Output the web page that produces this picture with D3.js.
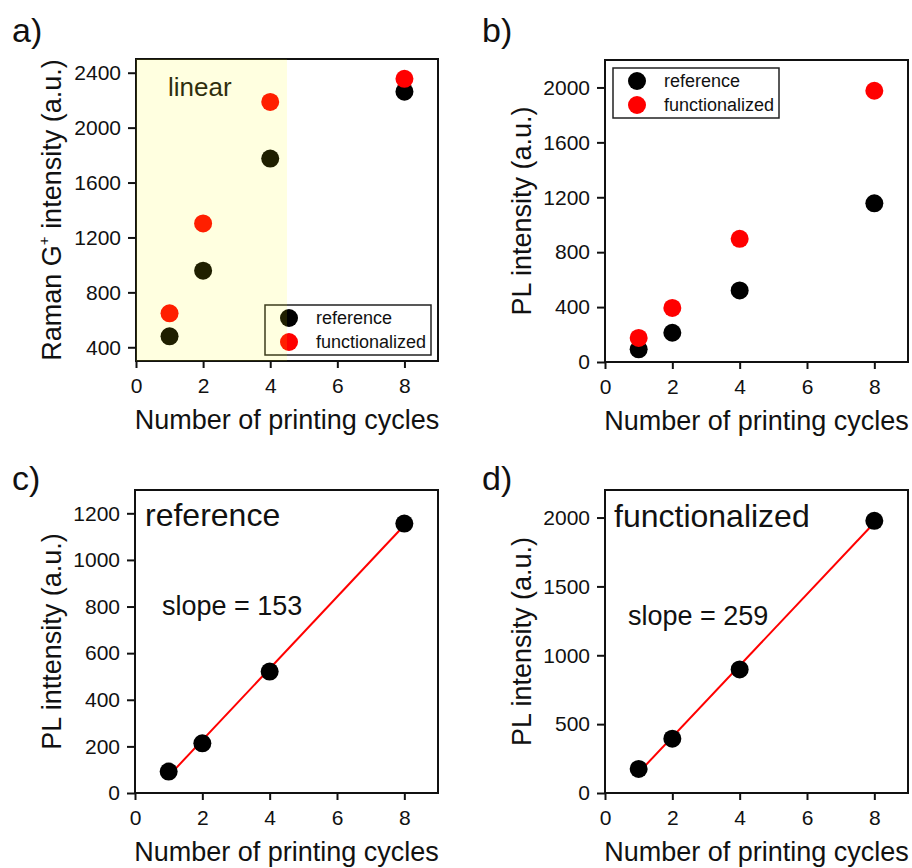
<!DOCTYPE html>
<html>
<head>
<meta charset="utf-8">
<script src="https://cdn.jsdelivr.net/npm/d3@7"></script>
<style>
  body { margin: 0; background: #fff; }
  text { font-family: Arial, "Liberation Sans", sans-serif; fill: #111; }
</style>
</head>
<body>
<div id="chart"></div>
<script>

// Data
var cycles = [1, 2, 4, 8];
var ramanRef  = [480, 958, 1775, 2262];
var ramanFunc = [647, 1302, 2187, 2356];
var plRef  = [92, 213, 521, 1156];
var plFunc = [175, 394, 897, 1976];

var xTicks = [0, 2, 4, 6, 8];
var ramanTicks = [400, 800, 1200, 1600, 2000, 2400];
var plTicksB = [0, 400, 800, 1200, 1600, 2000];
var plTicksC = [0, 200, 400, 600, 800, 1000, 1200];
var plTicksD = [0, 500, 1000, 1500, 2000];

var seriesNames = ["reference", "functionalized"];
var seriesColors = ["#000", "#ff0000"];


// --> SVG
var width = 912,
    height = 868;

var svg = d3.select("#chart").append("svg")
    .attr("width", width)
    .attr("height", height);


// Least squares fit
function linFit(xs, ys) {
    var mx = d3.mean(xs), my = d3.mean(ys);
    var sxy = d3.sum(xs, function(x, i) { return (x - mx) * (ys[i] - my); });
    var sxx = d3.sum(xs, function(x) { return (x - mx) * (x - mx); });
    var slope = sxy / sxx;
    return { slope: slope, intercept: my - slope * mx };
}


function drawPanel(p) {

    var g = svg.append("g");

    var x = d3.scaleLinear().domain([0, 9]).range([p.left, p.right]);
    var y = d3.scaleLinear().domain(p.yDomain).range([p.bottom, p.top]);

    // axes
    var xAxis = g.append("g")
        .attr("transform", "translate(0," + p.bottom + ")")
        .call(d3.axisBottom(x).tickValues(xTicks).tickSize(7).tickPadding(10).tickSizeOuter(0));

    var yAxis = g.append("g")
        .attr("transform", "translate(" + p.left + ",0)")
        .call(d3.axisLeft(y).tickValues(p.yTicks).tickFormat(d3.format("d")).tickSize(8).tickPadding(7).tickSizeOuter(0));

    [xAxis, yAxis].forEach(function(a) {
        a.select(".domain").remove();
        a.selectAll("line").attr("stroke", "#111").attr("stroke-width", 2);
        a.selectAll("text").style("font-size", "21px").attr("fill", "#111");
    });

    // frame
    g.append("rect")
        .attr("x", p.left)
        .attr("y", p.top)
        .attr("width", p.right - p.left)
        .attr("height", p.bottom - p.top)
        .attr("fill", "none")
        .attr("stroke", "#111")
        .attr("stroke-width", 2);

    // fit line
    if (p.fit) {
        var f = linFit(cycles, p.series[0]);
        g.append("line")
            .attr("x1", x(cycles[0]))
            .attr("y1", y(f.slope * cycles[0] + f.intercept))
            .attr("x2", x(cycles[cycles.length - 1]))
            .attr("y2", y(f.slope * cycles[cycles.length - 1] + f.intercept))
            .attr("stroke", "#ff0000")
            .attr("stroke-width", 2);
    }

    // points
    p.series.forEach(function(vals, s) {
        g.selectAll(".pt" + s)
            .data(vals)
            .enter().append("circle")
            .attr("class", "pt" + s)
            .attr("cx", function(d, i) { return x(cycles[i]); })
            .attr("cy", function(d) { return y(d); })
            .attr("r", 9)
            .attr("fill", p.colors[s]);
    });

    // legend
    if (p.legend) {
        var L = p.legend;
        g.append("rect")
            .attr("x", L.x).attr("y", L.y)
            .attr("width", 166).attr("height", 50)
            .attr("fill", "none")
            .attr("stroke", "#222")
            .attr("stroke-width", 1.5);
        seriesNames.forEach(function(name, i) {
            g.append("circle")
                .attr("cx", L.x + 24)
                .attr("cy", L.y + 13 + i * 24)
                .attr("r", 9)
                .attr("fill", seriesColors[i]);
            g.append("text")
                .attr("x", L.x + 51)
                .attr("y", L.y + 13 + i * 24 + 6)
                .style("font-size", "18px")
                .text(name);
        });
    }

    // in-plot labels
    (p.notes || []).forEach(function(n) {
        g.append("text")
            .attr("x", n.x).attr("y", n.y)
            .style("font-size", n.size + "px")
            .text(n.text);
    });

    // linear region overlay
    if (p.shade) {
        g.append("rect")
            .attr("x", x(0))
            .attr("y", p.top)
            .attr("width", x(p.shade) - x(0))
            .attr("height", p.bottom - p.top)
            .attr("fill", "#ffff00")
            .attr("fill-opacity", 0.12);
    }

    // axis titles
    g.append("text")
        .attr("x", (p.left + p.right) / 2)
        .attr("y", p.bottom + 68)
        .attr("text-anchor", "middle")
        .style("font-size", "27px")
        .text("Number of printing cycles");

    var yt = g.append("text")
        .attr("transform", "translate(" + p.yTitleX + "," + (p.top + p.bottom) / 2 + ") rotate(-90)")
        .attr("text-anchor", "middle")
        .style("font-size", "27px");
    p.yTitle.forEach(function(part) {
        var ts = yt.append("tspan").text(part.t);
        if (part.sup) ts.style("font-size", "15px").attr("dy", -12);
        if (part.after) ts.attr("dy", 12);
    });

    // panel letter
    g.append("text")
        .attr("x", p.labelX)
        .attr("y", p.labelY)
        .style("font-size", "34px")
        .text(p.label);
}


drawPanel({
    label: "a)", labelX: 12, labelY: 42,
    left: 136, right: 438, top: 59, bottom: 361,
    yDomain: [300, 2500], yTicks: ramanTicks,
    series: [ramanRef, ramanFunc], colors: seriesColors,
    legend: { x: 265, y: 305 },
    shade: 4.5,
    notes: [{ text: "linear", x: 168, y: 96, size: 26 }],
    yTitleX: 61,
    yTitle: [{ t: "Raman G" }, { t: "+", sup: true }, { t: " intensity (a.u.)", after: true }]
});

drawPanel({
    label: "b)", labelX: 482, labelY: 42,
    left: 605, right: 908, top: 60, bottom: 362,
    yDomain: [0, 2200], yTicks: plTicksB,
    series: [plRef, plFunc], colors: seriesColors,
    legend: { x: 613, y: 68 },
    yTitleX: 531,
    yTitle: [{ t: "PL intensity (a.u.)" }]
});

drawPanel({
    label: "c)", labelX: 12, labelY: 490,
    left: 135, right: 438, top: 490, bottom: 793,
    yDomain: [0, 1300], yTicks: plTicksC,
    series: [plRef], colors: ["#000"],
    fit: true,
    notes: [{ text: "reference", x: 145, y: 526, size: 32 },
            { text: "slope = 153", x: 162, y: 615, size: 27 }],
    yTitleX: 61,
    yTitle: [{ t: "PL inttensity (a.u.)" }]
});

drawPanel({
    label: "d)", labelX: 482, labelY: 490,
    left: 605, right: 908, top: 490, bottom: 793,
    yDomain: [0, 2200], yTicks: plTicksD,
    series: [plFunc], colors: ["#000"],
    fit: true,
    notes: [{ text: "functionalized", x: 614, y: 527, size: 32 },
            { text: "slope = 259", x: 628, y: 625, size: 27 }],
    yTitleX: 531,
    yTitle: [{ t: "PL intensity (a.u.)" }]
});

</script>
</body>
</html>
